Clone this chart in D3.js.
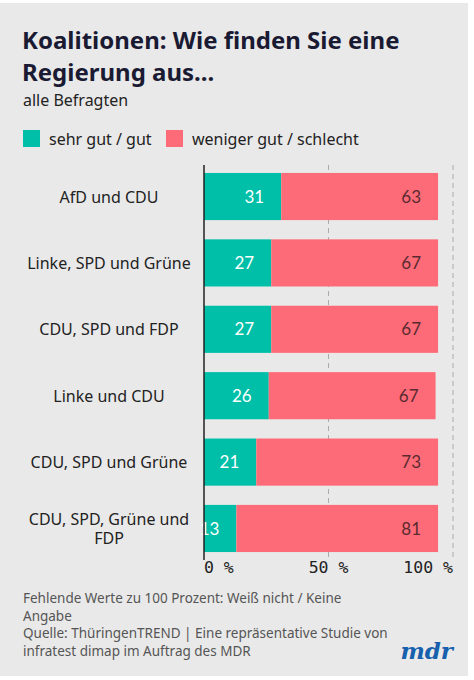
<!DOCTYPE html>
<html>
<head>
<meta charset="utf-8">
<script src="https://cdn.jsdelivr.net/npm/d3@7"></script>
<style>
  body { margin: 0; background: #fff; }
  svg { display: block; }
</style>
</head>
<body>
<div id="chart"></div>
<script>
const categories = ["AfD und CDU", "Linke, SPD und Grüne", "CDU, SPD und FDP", "Linke und CDU", "CDU, SPD und Grüne", "CDU, SPD, Grüne und FDP"];
const goodValues = [31, 27, 27, 26, 21, 13];
const badValues = [63, 67, 67, 67, 73, 81];
const seriesNames = ["sehr gut / gut", "weniger gut / schlecht"];
const tickValues = [0, 50, 100];

function drawChart() {
    const W = 474, H = 680;
    const teal = "#00bfa8", red = "#fe6b78";

    const svg = d3.select("#chart").append("svg")
        .attr("width", W)
        .attr("height", H);

    svg.append("rect")
        .attr("x", 0).attr("y", 3)
        .attr("width", 468).attr("height", 673)
        .attr("fill", "#e9e9e9");

    // title
    const title = svg.append("text")
        .attr("x", 23)
        .attr("fill", "#1a1a33")
        .style("font-family", "'Noto Sans', sans-serif")
        .style("font-weight", "700")
        .style("font-size", "24px");
    title.append("tspan").attr("x", 22).attr("y", 49).text("Koalitionen: Wie finden Sie eine");
    title.append("tspan").attr("x", 22).attr("y", 81).text("Regierung aus...");

    svg.append("text")
        .attr("x", 23).attr("y", 106)
        .attr("fill", "#222")
        .style("font-family", "'Noto Sans', sans-serif")
        .style("font-size", "16px")
        .text("alle Befragten");

    // legend
    const legendX = [23, 166];
    seriesNames.forEach((name, i) => {
        svg.append("rect")
            .attr("x", legendX[i]).attr("y", 130)
            .attr("width", 17).attr("height", 17)
            .attr("fill", i === 0 ? teal : red);
        svg.append("text")
            .attr("x", legendX[i] + 26).attr("y", 145)
            .attr("fill", "#222")
            .style("font-family", "'Noto Sans', sans-serif")
            .style("font-size", "16px")
            .text(name);
    });

    const x = d3.scaleLinear().domain([0, 100]).range([204, 453]);
    const y = d3.scaleBand()
        .domain(categories)
        .range([165, 560])
        .paddingInner(0.29)
        .paddingOuter(0.12);

    // dashed grid
    svg.selectAll(".grid")
        .data(tickValues.slice(1))
        .enter()
        .append("line")
        .attr("x1", d => x(d)).attr("x2", d => x(d))
        .attr("y1", 165).attr("y2", 560)
        .attr("stroke", "#aaa")
        .attr("stroke-width", 1)
        .attr("stroke-dasharray", "5,4");

    const rows = categories.map((c, i) => ({ category: c, good: goodValues[i], bad: badValues[i] }));

    svg.selectAll(".bar-good")
        .data(rows)
        .enter()
        .append("rect")
        .attr("x", x(0))
        .attr("y", d => y(d.category))
        .attr("width", d => x(d.good) - x(0))
        .attr("height", y.bandwidth())
        .attr("fill", teal);

    svg.selectAll(".bar-bad")
        .data(rows)
        .enter()
        .append("rect")
        .attr("x", d => x(d.good))
        .attr("y", d => y(d.category))
        .attr("width", d => x(d.good + d.bad) - x(d.good))
        .attr("height", y.bandwidth())
        .attr("fill", red);

    svg.selectAll(".lab-good")
        .data(rows)
        .enter()
        .append("text")
        .attr("x", d => x(d.good) - 17)
        .attr("y", d => y(d.category) + y.bandwidth() / 2)
        .attr("dy", "0.36em")
        .attr("text-anchor", "end")
        .attr("fill", "#fff")
        .style("font-family", "Lato, sans-serif")
        .style("font-size", "17px")
        .text(d => d.good);

    svg.selectAll(".lab-bad")
        .data(rows)
        .enter()
        .append("text")
        .attr("x", d => x(d.good + d.bad) - 17)
        .attr("y", d => y(d.category) + y.bandwidth() / 2)
        .attr("dy", "0.36em")
        .attr("text-anchor", "end")
        .attr("fill", "#5a2a30")
        .style("font-family", "Lato, sans-serif")
        .style("font-size", "17px")
        .text(d => d.bad);

    // category labels, long ones split on two lines
    const catLines = rows.flatMap(d => {
        const cy = y(d.category) + y.bandwidth() / 2;
        const lines = d.category.length > 22
            ? [d.category.replace(/ FDP$/, ""), "FDP"]
            : [d.category];
        return lines.map((l, i) => ({ text: l, y: cy + 6 + (i - (lines.length - 1) / 2) * 19 }));
    });

    svg.selectAll(".cat")
        .data(catLines)
        .enter()
        .append("text")
        .attr("class", "cat")
        .attr("x", 109)
        .attr("y", d => d.y)
        .attr("text-anchor", "middle")
        .attr("fill", "#222")
        .style("font-family", "'Noto Sans', sans-serif")
        .style("font-size", "16px")
        .text(d => d.text);

    // axis line
    svg.append("line")
        .attr("x1", x(0)).attr("x2", x(0))
        .attr("y1", 165).attr("y2", 560)
        .attr("stroke", "#222")
        .attr("stroke-width", 1.5);

    svg.selectAll(".tick-label")
        .data(tickValues)
        .enter()
        .append("text")
        .attr("x", d => x(d))
        .attr("y", 573)
        .attr("text-anchor", (d, i) => i === 0 ? "start" : (i === tickValues.length - 1 ? "end" : "middle"))
        .attr("fill", "#222")
        .style("font-family", "'DejaVu Sans Mono', monospace")
        .style("font-size", "16.5px")
        .text(d => d + " %");

    // footer
    const notes = [
        "Fehlende Werte zu 100 Prozent: Weiß nicht / Keine",
        "Angabe",
        "Quelle: ThüringenTREND | Eine repräsentative Studie von",
        "infratest dimap im Auftrag des MDR"
    ];
    svg.selectAll(".note")
        .data(notes)
        .enter()
        .append("text")
        .attr("x", 23)
        .attr("y", (d, i) => 603 + i * 17.7)
        .attr("fill", "#555")
        .style("font-family", "'Noto Sans', sans-serif")
        .style("font-size", "13.5px")
        .text(d => d);

    svg.append("text")
        .attr("x", 453).attr("y", 659)
        .attr("text-anchor", "end")
        .attr("fill", "#1660ad")
        .style("font-family", "'DejaVu Serif', serif")
        .style("font-weight", "700")
        .style("font-style", "italic")
        .style("font-size", "23px")
        .text("mdr");
}

window.addEventListener("load", drawChart);
</script>
</body>
</html>
